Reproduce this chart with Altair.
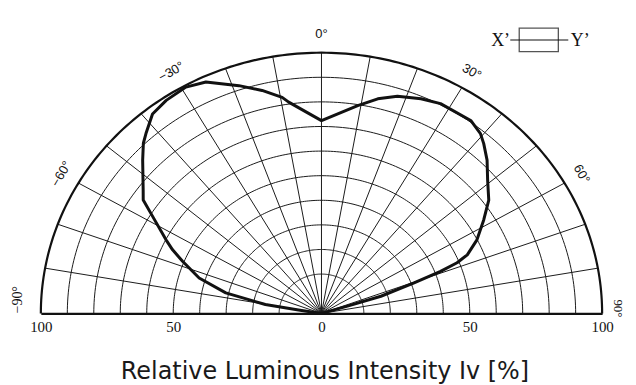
import altair as alt
import numpy as np
import pandas as pd

# ---------------- data ----------------
curve_angle = [-90, -81, -80.3, -77, -72.7, -68, -65.3, -63, -58.3, -55.6,
               -53.3, -47.3, -44.2, -42.2, -38.2, -34.1, -29.1, -24.9, -18.6, -13.9,
               -9.6, -8.2, 0, 9.2, 13.7, 18, 23.3, 27.8, 35.7, 39.4,
               41.6, 45.1, 49.2, 53.9, 58.2, 63, 66.6, 68.1, 69.2, 70.5,
               72.7, 73.2, 90]
curve_value = [0, 5.5, 15.5, 31.1, 42.4, 50.6, 55.9, 59.9, 68.9, 75.6,
               78, 85.9, 90.5, 92.7, 97.2, 98.6, 99.3, 97.7, 91.7, 87.4,
               83.1, 80.8, 72.4, 79.6, 83.8, 86.8, 89, 90.4, 90.6, 88.6,
               86.3, 82.3, 76.9, 72.2, 66.1, 59.9, 54, 49.2, 42.1, 31.1,
               17.5, 6.4, 0]
ring_values = [10, 20, 30, 40, 50, 60, 70, 80, 90, 100]
spoke_angles = [-80, -70, -60, -50, -40, -30, -20, -10, 0, 10, 20, 30, 40, 50, 60, 70, 80]
label_angles = [-90, -60, -30, 0, 30, 60, 90]
label_texts = ["\u221290\u00b0", "\u221260\u00b0", "\u221230\u00b0", "0\u00b0", "30\u00b0", "60\u00b0", "90\u00b0"]
tick_values = [-100, -50, 0, 50, 100]
x_title = "Relative Luminous Intensity Iv [%]"
legend_left = "X\u2019"
legend_right = "Y\u2019"


# radial display mapping (inner 0-10 zone is stretched in the original grid)
def disp(v):
    v = abs(v)
    return (v * 1.6 if v <= 10 else v + 6) / 1.06


RF = "((datum.{v} <= 10 ? datum.{v} * 1.6 : datum.{v} + 6) / 1.06)"


def to_xy(chart, v="v", a="a", xo="x", yo="y"):
    rf = RF.format(v=v)
    return chart.transform_calculate(**{
        xo: f"{rf} * sin(datum.{a} * PI / 180)",
        yo: f"{rf} * cos(datum.{a} * PI / 180)",
    })


curve_df = pd.DataFrame({"a": curve_angle, "v": curve_value})
curve_df["i"] = range(len(curve_df))

grid_angles = np.arange(-90, 90.5, 1.0)
ring_df = pd.DataFrame([{"v": r, "a": float(a)} for r in ring_values for a in grid_angles])
spoke_df = pd.DataFrame({"a": spoke_angles, "v0": 0, "v1": 100})
label_df = pd.DataFrame({"a": label_angles, "t": label_texts})

W, H = 564, 262
xs = alt.Scale(domain=[-100, 100], nice=False, zero=False)
ys = alt.Scale(domain=[0, 100], nice=False, zero=False)

tick_pos = [(-1 if t < 0 else 1) * disp(t) for t in tick_values]
xaxis = alt.Axis(
    values=tick_pos,
    labelExpr="datum.value == 0 ? '0' : format(abs(datum.value) * 1.06 - 6, '.0f')",
    ticks=False, grid=False,
    domainWidth=2.2, domainColor="#111",
    labelFont="Liberation Serif", labelFontSize=15, labelColor="#111",
    labelPadding=6, labelFlush=False, labelOverlap=False, labelBound=False,
    title=x_title, titleFont="DejaVu Sans", titleFontSize=24, titleFontWeight="normal",
    titleColor="#1a1a1a", titleY=65, titleX=285, titleBaseline="alphabetic", titleAlign="center",
)


def X(f):
    return alt.X(f, type="quantitative", scale=xs, axis=xaxis)


def Y(f):
    return alt.Y(f, type="quantitative", scale=ys, axis=None)


# grid rings
rings = to_xy(alt.Chart(ring_df)).transform_filter("datum.v < 100").mark_line(
    color="#1a1a1a", strokeWidth=1).encode(
    x=X("x"), y=Y("y"), detail="v:N", order="a:Q")

outer = to_xy(alt.Chart(ring_df)).transform_filter("datum.v == 100").mark_line(
    color="#111", strokeWidth=2.2).encode(
    x=X("x"), y=Y("y"), detail="v:N", order="a:Q")

# spokes
spokes = to_xy(to_xy(alt.Chart(spoke_df), v="v0", xo="x", yo="y"), v="v1", xo="x2", yo="y2").mark_rule(
    color="#1a1a1a", strokeWidth=1).encode(
    x=X("x"), y=Y("y"), x2="x2:Q", y2="y2:Q")

# intensity curve
curve = to_xy(alt.Chart(curve_df)).mark_line(
    color="#111", strokeWidth=3, strokeJoin="round").encode(
    x=X("x"), y=Y("y"), order="i:Q")

# angle labels
lab_main = alt.Chart(label_df).transform_filter("abs(datum.a) < 90").transform_calculate(
    x="107 * sin(datum.a * PI / 180)", y="107 * cos(datum.a * PI / 180)",
    rot="(datum.a + 360) % 360").mark_text(
    font="Liberation Sans", fontSize=13, color="#111", align="center", baseline="middle").encode(
    x=X("x"), y=Y("y"), text="t:N", angle=alt.Angle("rot:Q", scale=None))

lab_left = alt.Chart(label_df).transform_filter("datum.a == -90").transform_calculate(
    x="-108", y="0").mark_text(
    font="Liberation Serif", fontSize=14, color="#111", align="left", baseline="middle", angle=270).encode(
    x=X("x"), y=Y("y"), text="t:N")

lab_right = alt.Chart(label_df).transform_filter("datum.a == 90").transform_calculate(
    x="105.5", y="0").mark_text(
    font="Liberation Serif", fontSize=13, color="#111", align="center", baseline="middle", angle=90, dx=-5).encode(
    x=X("x"), y=Y("y"), text="t:N")

# X'--[ ]--Y' inset
one = alt.Data(values=[{}])
box = alt.Chart(one).mark_rect(fill="white", stroke="#555", strokeWidth=1.3).encode(
    x=alt.value(480.7), x2=alt.value(520), y=alt.value(-24.7), y2=alt.value(-1))
box_line = alt.Chart(one).mark_rule(color="#111", strokeWidth=1.1).encode(
    x=alt.value(471.7), x2=alt.value(530), y=alt.value(-12.7))
box_l = alt.Chart(one).mark_text(font="Liberation Serif", fontSize=18, color="#111",
                                 align="right", baseline="middle").encode(
    x=alt.value(471.5), y=alt.value(-11.5), text=alt.value(legend_left))
box_r = alt.Chart(one).mark_text(font="Liberation Serif", fontSize=18, color="#111",
                                 align="left", baseline="middle").encode(
    x=alt.value(532.5), y=alt.value(-11.5), text=alt.value(legend_right))

chart = alt.layer(
    rings, spokes, outer, curve, lab_main, lab_left, lab_right, box, box_line, box_l, box_r
).properties(
    width=W, height=H,
    autosize=alt.AutoSizeParams(type="none"),
    padding={"left": 33, "top": 44, "right": 26, "bottom": 70},
    background="white",
).configure_view(stroke=None)

chart.save("out.html", embed_options={"renderer": "svg", "actions": False})
